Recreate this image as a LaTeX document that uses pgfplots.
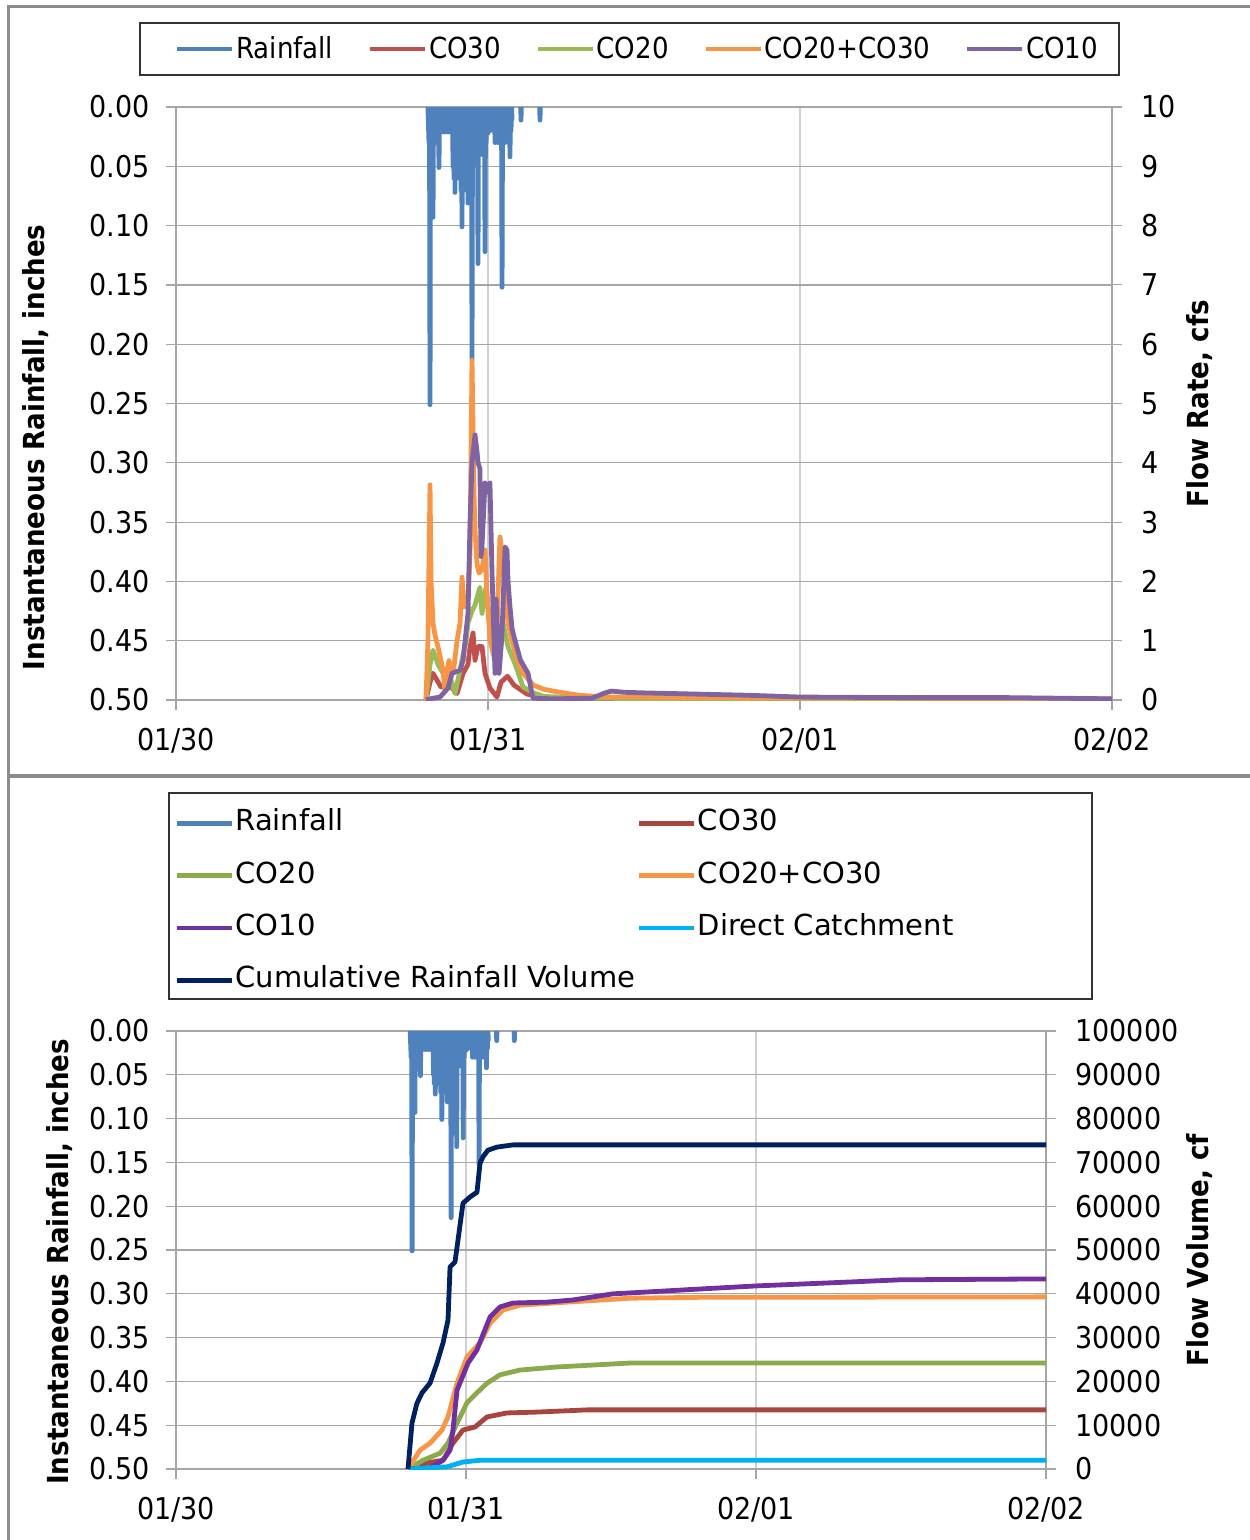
\documentclass[border=0pt]{standalone}
\usepackage{pgfplots}
\usepackage{pgfplotstable}
\pgfplotsset{compat=1.18}
\usepackage{fontspec}
\setmainfont{DejaVu Sans Condensed}
\newfontfamily\wide{DejaVu Sans}

\definecolor{rain}{HTML}{4F81BD}
\definecolor{cothirty}{HTML}{C0504D}
\definecolor{cotwenty}{HTML}{9BBB59}
\definecolor{combo}{HTML}{F79646}
\definecolor{coten}{HTML}{8064A2}
\definecolor{cotenb}{HTML}{7030A0}
\definecolor{cothirtyb}{HTML}{A9453F}
\definecolor{cotwentyb}{HTML}{8BAA4B}
\definecolor{direct}{HTML}{00B0F0}
\definecolor{cum}{HTML}{002060}
\definecolor{gridc}{HTML}{A6A6A6}
\definecolor{vgridc}{HTML}{D0D0D0}
\definecolor{framec}{HTML}{8C8C8C}

\newcommand{\fs}{\fontsize{14.5}{17}\selectfont}
\newcommand{\ft}{\fontsize{15}{18}\selectfont}

% rainfall, hours from 01/30 00:00, inches
\pgfplotstableread{
h v
19.38 0
19.46 0.03
19.50 0
19.54 0.251
19.58 0
19.62 0.02
19.66 0
19.69 0.03
19.73 0
19.77 0.093
19.81 0
19.85 0.02
19.89 0
19.92 0.02
19.96 0
20.00 0.02
20.04 0
20.08 0.03
20.12 0
20.15 0.02
20.19 0
20.23 0.051
20.27 0
20.31 0.02
20.35 0
20.38 0.01
20.42 0
20.46 0.01
20.50 0
20.54 0.021
20.58 0
20.62 0.02
20.66 0
20.69 0.021
20.73 0
20.77 0.02
20.81 0
20.85 0.021
20.89 0
20.92 0.02
20.96 0
21.00 0.021
21.04 0
21.08 0.021
21.12 0
21.15 0.01
21.19 0
21.23 0.02
21.27 0
21.31 0.05
21.35 0
21.38 0.06
21.42 0
21.46 0.072
21.50 0
21.54 0.05
21.58 0
21.62 0.06
21.66 0
21.69 0.04
21.73 0
21.77 0.05
21.81 0
21.85 0.06
21.89 0
21.92 0.07
21.96 0
22.00 0.101
22.04 0
22.08 0.06
22.12 0
22.15 0.05
22.19 0
22.23 0.063
22.27 0
22.31 0.07
22.35 0
22.38 0.06
22.42 0
22.46 0.081
22.50 0
22.54 0.07
22.58 0
22.62 0.06
22.66 0
22.69 0.05
22.73 0
22.77 0.213
22.81 0
22.85 0.05
22.89 0
22.92 0.04
22.96 0
23.00 0.03
23.04 0
23.08 0.04
23.12 0
23.15 0.03
23.19 0
23.23 0.132
23.27 0
23.31 0.03
23.35 0
23.38 0.02
23.42 0
23.46 0.03
23.50 0
23.54 0.04
23.58 0
23.62 0.03
23.66 0
23.69 0.02
23.73 0
23.77 0.122
23.81 0
23.85 0.03
23.89 0
23.92 0.02
23.96 0
24.00 0.022
24.04 0
24.08 0.01
24.12 0
24.15 0.02
24.19 0
24.23 0.015
24.27 0
24.31 0.01
24.35 0
24.38 0.013
24.42 0
24.46 0.02
24.50 0
24.54 0.03
24.58 0
24.62 0.02
24.66 0
24.69 0.024
24.73 0
24.77 0.03
24.81 0
24.85 0.02
24.89 0
24.92 0.03
24.96 0
25.00 0.02
25.04 0
25.08 0.152
25.12 0
25.15 0.03
25.19 0
25.23 0.03
25.27 0
25.31 0.03
25.35 0
25.38 0.02
25.42 0
25.46 0.02
25.50 0
25.54 0.01
25.58 0
25.62 0.02
25.66 0
25.69 0.042
25.73 0
25.77 0.02
25.81 0
25.85 0.01
25.90 nan
26.52 0
26.54 0.011
26.56 0
26.60 nan
27.98 0
28.00 0.011
28.02 0
}\rainT

% flow rates, cfs
\pgfplotstableread{
h v
19.23 0
19.54 0.3
19.77 0.45
20.38 0.22
21.15 0.22
21.62 0.11
22.08 0.45
22.46 0.6
22.62 0.9
22.85 1.13
23.00 0.67
23.23 0.9
23.54 0.9
23.77 0.45
24.15 0.2
24.69 0.05
25.00 0.3
25.50 0.4
26.00 0.25
27.00 0.1
28.00 0.05
32.00 0.02
72.00 0.01
}\qThirty

\pgfplotstableread{
h v
19.23 0
19.54 0.6
19.77 0.84
20.15 0.6
20.69 0.4
21.15 0.34
21.46 0.11
21.85 0.5
22.00 0.67
22.31 1.0
22.46 1.3
22.77 1.5
23.00 1.6
23.38 1.9
23.54 1.46
23.85 1.9
24.15 1.3
24.54 0.9
24.85 0.5
25.15 1.3
25.54 0.9
26.10 0.6
26.69 0.22
27.50 0.12
28.30 0.06
32.00 0.03
40.00 0.02
72.00 0.01
}\qTwenty

\pgfplotstableread{
h v
19.23 0
19.38 1.0
19.54 3.63
19.62 2.0
19.77 1.3
19.92 1.1
20.15 0.9
20.38 0.67
20.54 0.5
20.69 0.17
20.85 0.5
21.00 0.67
21.15 0.45
21.35 0.5
21.62 1.0
21.85 1.3
22.00 2.07
22.15 1.57
22.31 1.6
22.46 1.7
22.62 2.5
22.77 5.73
22.92 3.5
23.00 2.87
23.15 2.3
23.31 2.14
23.54 2.2
23.77 2.53
23.92 1.8
24.15 1.01
24.38 0.8
24.54 0.67
24.69 1.2
24.85 2.3
24.92 2.75
25.08 2.5
25.31 1.8
25.54 1.3
25.85 1.0
26.20 0.7
26.69 0.45
27.50 0.25
28.30 0.18
29.80 0.12
31.00 0.08
33.00 0.05
36.00 0.05
40.00 0.04
48.00 0.03
56.00 0.03
64.00 0.02
72.00 0.02
}\qCombo

\pgfplotstableread{
h v
19.23 0
19.54 0.02
20.31 0.05
20.92 0.2
21.23 0.45
21.85 0.5
22.08 0.67
22.46 1.46
22.62 3.0
22.77 4.0
23.00 4.47
23.15 4.2
23.23 4.0
23.38 3.9
23.46 2.42
23.54 2.6
23.77 3.66
23.92 3.5
24.15 3.66
24.31 2.14
24.54 0.45
24.62 1.7
24.85 0.45
25.08 1.13
25.31 2.58
25.46 2.53
25.54 2.0
25.69 1.57
25.85 1.2
26.08 1.0
26.50 0.67
27.08 0.45
27.30 0.2
27.46 0.03
29.00 0.02
32.00 0.03
33.00 0.12
33.50 0.15
34.50 0.13
36.00 0.12
40.00 0.1
44.00 0.08
48.00 0.05
56.00 0.04
64.00 0.04
72.00 0.02
}\qTen

% cumulative volumes, cf
\pgfplotstableread{
h v
19.20 0
20.77 1400
22.10 2000
22.92 5900
23.75 8900
24.75 9600
25.74 11900
27.39 12800
29.88 13000
34.01 13500
72.00 13500
}\vThirty

\pgfplotstableread{
h v
19.20 0
20.44 2000
21.85 3600
22.51 5900
23.26 10500
24.08 15100
24.91 17400
25.74 19600
26.81 21500
28.47 22600
31.53 23300
37.57 24200
72.00 24200
}\vTwenty

\pgfplotstableread{
h v
19.20 0
20.19 4300
21.02 5900
22.01 8900
22.51 11900
23.26 19600
24.08 25600
25.16 28800
25.99 33300
27.06 36300
28.47 37400
32.36 38100
37.57 39000
43.37 39200
72.00 39300
}\vCombo

\pgfplotstableread{
h v
19.37 0
21.02 300
22.10 2000
22.68 4300
22.92 8900
23.26 18000
24.17 24200
24.91 27200
25.32 30100
25.99 34700
26.81 37000
27.89 37900
30.70 38100
32.86 38600
36.17 40000
37.57 40200
43.37 41100
48.00 41800
55.78 42700
59.92 43200
72.00 43400
}\vTen

\pgfplotstableread{
h v
19.20 0
22.43 500
23.75 1600
25.16 2000
72.00 2000
}\vDirect

\pgfplotstableread{
h v
19.20 0
19.53 10500
19.94 15000
20.36 17400
21.02 19600
21.60 24200
22.10 28800
22.51 34000
22.68 46100
23.09 47300
23.34 52300
23.75 60700
24.33 62100
24.91 63200
25.16 69800
25.41 71300
25.82 72800
26.57 73500
27.89 74000
72.00 74000
}\vCum

\pgfplotsset{
  panel/.style={
    scale only axis, anchor=south west,
    xmin=0, xmax=72,
    xtick={0,24,48,72}, xticklabels={01/30,01/31,02/01,02/02},
    tick align=outside, major tick length=5pt,
    tick style={gridc, line width=0.6pt},
    axis line style={gridc, line width=0.6pt},
    ticklabel style={font=\ft},
    /pgf/number format/assume math mode=true,
    label style={font=\fs\bfseries},
    xticklabel style={anchor=north, inner sep=0pt, yshift=-9pt},
    unbounded coords=jump,
  },
  leftpanel/.style={
    panel, y dir=reverse, ymin=0, ymax=0.5,
    ytick={0,0.05,0.1,0.15,0.2,0.25,0.3,0.35,0.4,0.45,0.5},
    yticklabel style={anchor=east, inner sep=0pt, xshift=-8pt,
      /pgf/number format/fixed, /pgf/number format/fixed zerofill,
      /pgf/number format/precision=2},
    tick pos=left,
    ymajorgrids, xmajorgrids,
    major y grid style={gridc, line width=0.6pt},
    major x grid style={vgridc, line width=0.6pt},
    extra y ticks={0}, extra y tick labels={},
    extra y tick style={grid style={black!75, line width=0.8pt}, major tick length=0pt},
  },
  rightpanel/.style={
    panel, axis x line=none, axis y line*=right, ymin=0,
    yticklabel style={anchor=west, inner sep=0pt, xshift=9.5pt},
    legend cell align=left,
    legend image code/.code={\draw[##1, line width=2.4pt] (0pt,0pt) -- (27.5pt,0pt);},
  },
  rainst/.style={rain, line width=2.4pt, line cap=round, line join=round},
  flowst/.style={line width=2.4pt, line join=round},
}

\begin{document}
\begin{tikzpicture}
\useasboundingbox (0pt,0pt) rectangle (624.5pt,-770pt);

% frames and legend boxes
\begin{scope}[x=0.5pt, y=-0.5pt]
  \draw[framec, line width=1.5pt] (8,1540) -- (8,7) -- (1250,7);
  \draw[framec, line width=2pt] (8,776) -- (1250,776);
  \draw[black!80, line width=0.8pt] (140,23) rectangle (1119,75);
  \draw[black!80, line width=0.8pt] (169,793) rectangle (1092,999);
\end{scope}

% ---------------- top panel ----------------
\begin{axis}[leftpanel, at={(88pt,-350pt)}, width=468pt, height=296.5pt,
  ylabel={Instantaneous Rainfall, inches},
  ylabel style={at={(axis description cs:-0.1496,0.426)}, anchor=center}]
  \addplot[rainst] table[x=h, y=v] {\rainT};
\end{axis}
\begin{axis}[rightpanel, at={(88pt,-350pt)}, width=468pt, height=296.5pt,
  ymax=10, ytick={0,1,2,3,4,5,6,7,8,9,10},
  ylabel={Flow Rate, cfs},
  ylabel style={at={(axis description cs:1.094,0.5)}, anchor=center},
  legend columns=5,
  legend style={at={(-0.0015,1.0978)}, anchor=west, draw=none, fill=none,
    inner sep=0pt, font=\fs, nodes={inner ysep=0pt, inner xsep=0.75pt},
    /tikz/every even column/.append style={column sep=16.5pt}}]
  \addlegendimage{rain}
  \addlegendentry{Rainfall}
  \addplot[flowst, cothirty] table[x=h, y=v] {\qThirty};
  \addlegendentry{CO30}
  \addplot[flowst, cotwenty] table[x=h, y=v] {\qTwenty};
  \addlegendentry{CO20}
  \addplot[flowst, combo] table[x=h, y=v] {\qCombo};
  \addlegendentry{CO20+CO30}
  \addplot[flowst, coten] table[x=h, y=v] {\qTen};
  \addlegendentry{CO10}
\end{axis}

% ---------------- bottom panel ----------------
\begin{axis}[leftpanel, at={(88pt,-734.5pt)}, width=435pt, height=219pt,
  ylabel={Instantaneous Rainfall, inches},
  ylabel style={at={(axis description cs:-0.1333,0.473)}, anchor=center}]
  \addplot[rainst] table[x=h, y=v] {\rainT};
\end{axis}
\begin{axis}[rightpanel, at={(88pt,-734.5pt)}, width=435pt, height=219pt,
  ymax=100000,
  ytick={0,10000,20000,30000,40000,50000,60000,70000,80000,90000,100000},
  scaled y ticks=false,
  yticklabel style={/pgf/number format/fixed, /pgf/number format/1000 sep={}},
  ylabel={Flow Volume, cf},
  ylabel style={at={(axis description cs:1.177,0.5)}, anchor=center},
  legend columns=2,
  legend style={at={(-0.0025,1.508)}, anchor=north west, draw=none, fill=none,
    inner sep=0pt, font=\wide\fs, nodes={inner ysep=0pt, inner xsep=0.75pt,
    text height=11pt, text depth=3.5pt},
    row sep=11.65pt,
    /tikz/every even column/.append style={column sep=0pt}}]
  \addlegendimage{rain}
  \addlegendentry{Rainfall}
  \addplot[flowst, cothirtyb] table[x=h, y=v] {\vThirty};
  \addlegendentry{CO30}
  \addplot[flowst, cotwentyb] table[x=h, y=v] {\vTwenty};
  \addlegendentry{CO20}
  \addplot[flowst, combo] table[x=h, y=v] {\vCombo};
  \addlegendentry{CO20+CO30}
  \addplot[flowst, cotenb] table[x=h, y=v] {\vTen};
  \addlegendentry{CO10}
  \addplot[flowst, direct] table[x=h, y=v] {\vDirect};
  \addlegendentry{Direct Catchment}
  \addplot[flowst, cum] table[x=h, y=v] {\vCum};
  \addlegendentry{Cumulative Rainfall Volume}
\end{axis}
\end{tikzpicture}
\end{document}
